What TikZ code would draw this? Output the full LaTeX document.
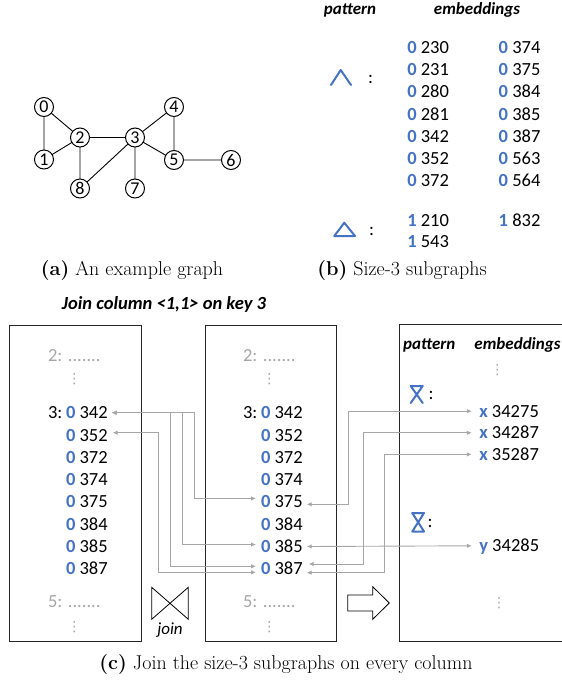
\documentclass[tikz,border=0pt]{standalone}
\usepackage{fontspec}
\newfontfamily\cali{Carlito}
\newfontfamily\dejavu{DejaVu Sans}
\usetikzlibrary{arrows.meta,calc}
\definecolor{ablue}{HTML}{4472C4}
\definecolor{lgray}{HTML}{A6A6A6}
\definecolor{tgray}{HTML}{A6A6A6}
\newcommand\zrow[1]{{\bfseries\color{ablue}0} #1}
\newcommand\lrow[2]{{\bfseries\color{ablue}#1} #2}
\begin{document}
\begin{tikzpicture}[x=1pt,y=-1pt,
  every node/.style={inner sep=0pt,outer sep=0pt},
  vtx/.style={circle,draw,line width=1pt,minimum size=19pt,font=\cali\fontsize{18}{18}\selectfont},
  gedge/.style={line width=0.9pt},
  rowtxt/.style={anchor=west,font=\cali\fontsize{18.5}{20}\selectfont,text height=12pt,text depth=0pt},
  growtxt/.style={rowtxt,text=tgray},
  colon/.style={anchor=base,font=\cali\fontsize{18.5}{20}\selectfont},
  hdr/.style={anchor=base,font=\cali\bfseries\itshape\fontsize{17}{19}\selectfont},
  captxt/.style={anchor=base,font=\fontsize{20}{22}\selectfont},
  vd/.style={text=tgray,font=\dejavu\fontsize{14}{14}\selectfont},
  pat/.style={draw=ablue,line width=2pt,line join=round,line cap=round},
  boxline/.style={draw=black!85,line width=0.9pt},
  conn/.style={draw=lgray,line width=0.9pt,{Latex[length=5pt,width=4.5pt]}-{Latex[length=5pt,width=4.5pt]}},
]
\useasboundingbox (0,0) rectangle (562,683);

% ---------------- (a) graph
\node[vtx] (n0) at (44,107) {0};
\node[vtx] (n1) at (44,159.5) {1};
\node[vtx] (n2) at (80,137.5) {2};
\node[vtx] (n3) at (135,137.5) {3};
\node[vtx] (n4) at (174,107) {4};
\node[vtx] (n5) at (174,160) {5};
\node[vtx] (n6) at (231,160) {6};
\node[vtx] (n7) at (135,188.5) {7};
\node[vtx] (n8) at (80,188.5) {8};
\draw[gedge] (n0)--(n1) (n0)--(n2) (n1)--(n2) (n2)--(n3) (n2)--(n8) (n3)--(n8)
  (n3)--(n4) (n3)--(n5) (n3)--(n7) (n4)--(n5) (n5)--(n6);
\node[captxt] (capa) at (132,275.5) {\textbf{(a)} An example graph};

% ---------------- (b) table
\node[hdr] (hp1) at (350,14) {pattern};
\node[hdr] (he1) at (477,14) {embeddings};
\draw[pat] (331,85) -- (340.7,70) -- (351,85);
\node[colon] (col1) at (370.7,83.5) {:};
\draw[pat] (334.3,236) -- (344.3,222.7) -- (355,236) -- cycle;
\node[colon] (col2) at (371.7,235) {:};
\foreach \v [count=\i from 0] in {230,231,280,281,342,352,372}
  \node[rowtxt] (ba\v) at (407.3,47.5+22.2*\i) {\zrow{\v}};
\foreach \v [count=\i from 0] in {374,375,384,385,387,563,564}
  \node[rowtxt] (bb\v) at (498.7,47.5+22.2*\i) {\zrow{\v}};
\node[rowtxt] (bt210) at (407.3,220) {\lrow{1}{210}};
\node[rowtxt] (bt543) at (407.3,241) {\lrow{1}{543}};
\node[rowtxt] (bt832) at (498.7,220) {\lrow{1}{832}};
\node[captxt] (capb) at (402,275.5) {\textbf{(b)} Size-3 subgraphs};

% ---------------- (c)
\node[hdr,anchor=center,font=\cali\bfseries\itshape\fontsize{18.5}{20}\selectfont] (title) at (164,304) {Join column <1,1> on key 3};
\draw[boxline] (9.3,325) rectangle (141.7,641.7);
\draw[boxline] (205,325) rectangle (336.5,641.7);
\draw[boxline] (563,324.5) -- (399,324.5) -- (399,641.7) -- (563,641.7);

% left box
\node[growtxt] (l2) at (48,355) {2: .......};
\node[vd] (ld1) at (74.3,379) {⋮};
\node[rowtxt] (l3) at (48,412.7) {3:};
\foreach \v [count=\i from 0] in {342,352,372,374,375,384,385,387}
  \node[rowtxt] (L\v) at (66,412.7+22.3*\i) {\zrow{\v}};
\node[growtxt] (l5) at (48,601.7) {5: .......};
\node[vd] (ld2) at (74.3,626.7) {⋮};

% middle box
\node[growtxt] (m2) at (243,355) {2: .......};
\node[vd] (md1) at (269.3,379) {⋮};
\node[rowtxt] (m3) at (243,412.7) {3:};
\foreach \v [count=\i from 0] in {342,352,372,374,375,384,385,387}
  \node[rowtxt] (M\v) at (261,412.7+22.3*\i) {\zrow{\v}};
\node[growtxt] (m5) at (243,601.7) {5: .......};
\node[vd] (md2) at (269.3,626.7) {⋮};

% right box
\node[hdr] (hp2) at (429.3,349) {pattern};
\node[hdr] (he2) at (517.5,349) {embeddings};
\node[vd] (rd1) at (497.3,370) {⋮};
\draw[pat] (410.7,386) -- (422.7,386) -- (410.7,403) (410.7,386) -- (422.7,403);
\node[colon] (col3) at (431,399) {:};
\node[rowtxt] (X1) at (479.3,411.2) {\lrow{x}{34275}};
\node[rowtxt] (X2) at (479.3,432.8) {\lrow{x}{34287}};
\node[rowtxt] (X3) at (479.3,454.4) {\lrow{x}{35287}};
\draw[pat] (412.3,513) -- (424,513) -- (412.3,531.5) -- (424,531.5) -- cycle;
\node[colon] (col4) at (430,527.5) {:};
\node[rowtxt] (Y1) at (479.3,545.8) {\lrow{y}{34285}};
\node[vd] (rd2) at (499,603.3) {⋮};

% join symbol & arrow
\draw[line width=0.8pt] (151.7,587.3) -- (188.3,619.3) -- (188.3,587.3) -- (151.7,619.3) -- cycle;
\node[font=\cali\itshape\fontsize{17}{18}\selectfont] (join) at (170,630) {join};
\draw[line width=0.8pt] (347.7,595) -- (372.7,595) -- (372.7,586.7) -- (389.3,603) -- (372.7,619.3) -- (372.7,611) -- (347.7,611) -- cycle;

% connectors
\coordinate (chA1) at (194.3,0);
\coordinate (chA2) at (182.3,0);
\coordinate (chA3) at (170,0);
\coordinate (chA4) at (158.3,0);
\coordinate (chB1) at (348.3,0);
\coordinate (chB2) at (363.3,0);
\coordinate (chB3) at (384,0);

\coordinate (a1s) at ([xshift=4pt]L342.east);
\coordinate (a1e) at ([xshift=-5pt,yshift=3.5pt]M375.west);
\coordinate (a2e) at ([xshift=-5pt,yshift=2pt]M385.west);
\coordinate (a3e) at ([xshift=-5pt,yshift=2.5pt]M387.west);
\coordinate (a4s) at ([xshift=5pt,yshift=2.3pt]L352.east);
\coordinate (a4e) at ([xshift=-5pt,yshift=-3.5pt]M387.west);
\draw[conn] (a1s) -| (chA1 |- a1e) -- (a1e);
\draw[conn] (a1s) -| (chA2 |- a2e) -- (a2e);
\draw[conn] (a1s) -| (chA3 |- a3e) -- (a3e);
\draw[conn] (a4s) -| (chA4 |- a4e) -- (a4e);

\coordinate (b1s) at ([xshift=4pt,yshift=-2.4pt]M375.east);
\coordinate (b1e) at ([xshift=-7.5pt]X1.west);
\coordinate (b2s) at ([xshift=6pt,yshift=4.8pt]M387.east);
\coordinate (b2e) at ([xshift=-7.5pt]X2.west);
\coordinate (b3s) at ([xshift=4pt,yshift=-3.9pt]M387.east);
\coordinate (b3e) at ([xshift=-7.5pt]X3.west);
\coordinate (b4s) at ([xshift=4pt]M385.east);
\coordinate (b4e) at ([xshift=-7.5pt]Y1.west);
\draw[conn] (b1s) -| (chB1 |- b1e) -- (b1e);
\draw[conn] (b2s) -| (chB2 |- b2e) -- (b2e);
\draw[conn] (b3s) -| (chB3 |- b3e) -- (b3e);
\draw[conn] (b4s) -- (b4e);

\node[captxt] (capc) at (286,669.5) {\textbf{(c)} Join the size-3 subgraphs on every column};
\end{tikzpicture}
\end{document}
